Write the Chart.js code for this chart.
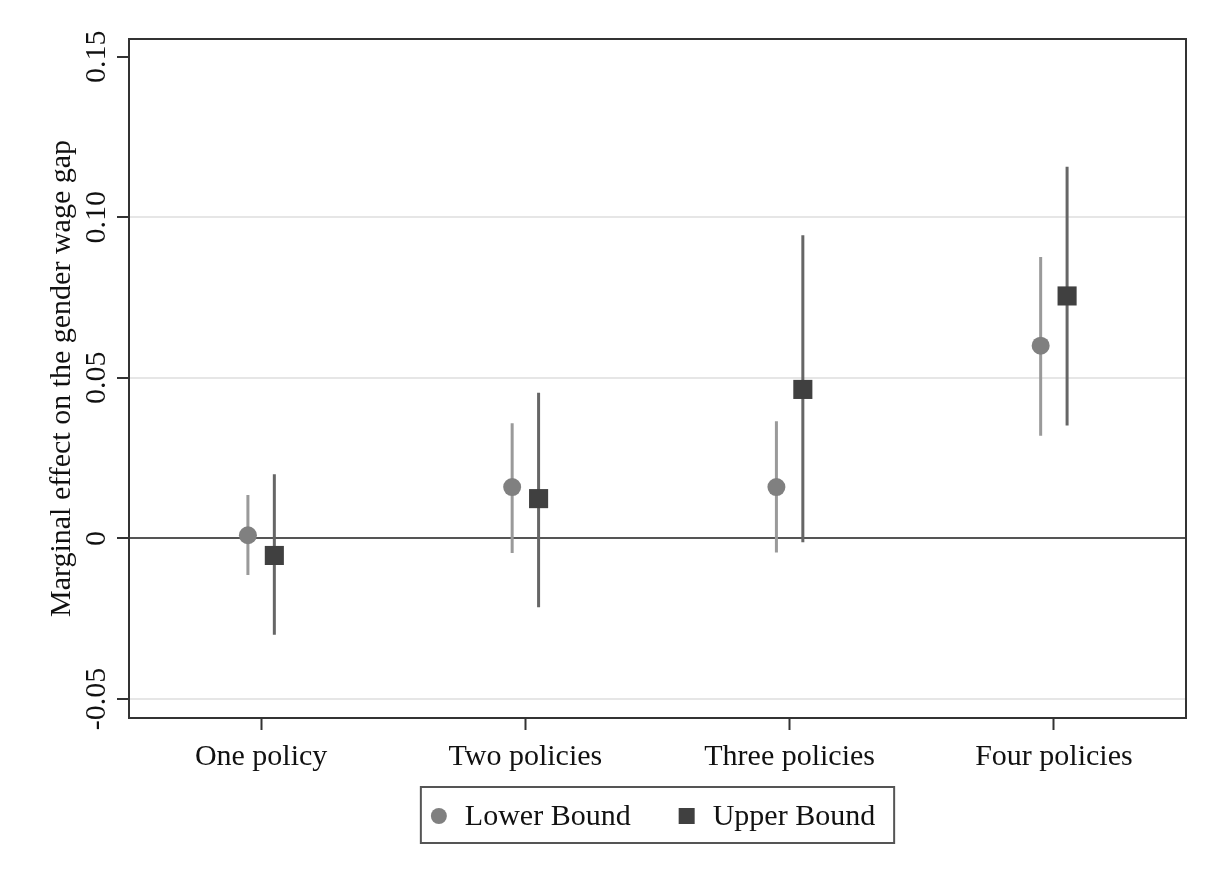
<!DOCTYPE html>
<html>
<head>
<meta charset="utf-8">
<script src="https://cdn.jsdelivr.net/npm/chart.js@4.4.1/dist/chart.umd.min.js"></script>
<style>
  html, body { margin: 0; padding: 0; background: #fff; }
  #wrap { width: 1206px; height: 882px; position: relative; }
</style>
</head>
<body>
<div id="wrap"><canvas id="chart"></canvas></div>
<script>
// categorias e estimativas
const categories = ['One policy', 'Two policies', 'Three policies', 'Four policies'];

const lowerEst = [0.001, 0.016, 0.016, 0.060];
const lowerLo  = [-0.0114, -0.0045, -0.0044, 0.032];
const lowerHi  = [0.0135, 0.0359, 0.0365, 0.0876];

const upperEst = [-0.0053, 0.0124, 0.0464, 0.0755];
const upperLo  = [-0.030, -0.0214, -0.0012, 0.0352];
const upperHi  = [0.020, 0.0454, 0.0944, 0.1157];

const yTickValues = [-0.05, 0, 0.05, 0.10, 0.15];
const yTickLabels = ['-0.05', '0', '0.05', '0.10', '0.15'];

const seriesNames = ['Lower Bound', 'Upper Bound'];

const FONT = '"Liberation Serif", "Times New Roman", serif';
const dodge = 0.05;

// helpers para montar os dados
const pts = (est, shift) => est.map((v, i) => ({ x: i + 1 + shift, y: v }));
const bars = (lo, hi, shift) => {
  let out = [];
  lo.forEach((v, i) => {
    out.push({ x: i + 1 + shift, y: v });
    out.push({ x: i + 1 + shift, y: hi[i] });
    out.push({ x: i + 1 + shift, y: null });
  });
  return out;
};

const lowerColor = '#808080', lowerLine = '#9a9a9a';
const upperColor = '#404040', upperLine = '#666666';

// eixo y rotulado na vertical, moldura e legenda com caixa
const extras = {
  id: 'extras',
  afterDraw(chart) {
    const ctx = chart.ctx;
    const ca = chart.chartArea;
    const yS = chart.scales.y;

    ctx.save();
    ctx.strokeStyle = '#333';
    ctx.lineWidth = 2;
    ctx.strokeRect(ca.left, ca.top, ca.right - ca.left, ca.bottom - ca.top);

    ctx.fillStyle = '#111';
    ctx.font = '30px ' + FONT;
    ctx.textAlign = 'center';
    ctx.textBaseline = 'alphabetic';
    yTickValues.forEach((v, i) => {
      const y = yS.getPixelForValue(v);
      ctx.save();
      ctx.translate(105, y);
      ctx.rotate(-Math.PI / 2);
      ctx.fillText(yTickLabels[i], 0, 0);
      ctx.restore();
    });

    // legenda
    const padL = 10, mW = 16, mGap = 18, iGap = 48, padR = 19;
    ctx.textAlign = 'left';
    const w1 = ctx.measureText(seriesNames[0]).width;
    const w2 = ctx.measureText(seriesNames[1]).width;
    const total = padL + mW + mGap + w1 + iGap + mW + mGap + w2 + padR;
    const left = (ca.left + ca.right) / 2 - total / 2;
    const top = ca.bottom + 69;
    const h = 56;
    ctx.strokeStyle = '#555';
    ctx.lineWidth = 2;
    ctx.strokeRect(left, top, total, h);

    const cy = top + h / 2 + 1;
    let x = left + padL;
    ctx.fillStyle = lowerColor;
    ctx.beginPath();
    ctx.arc(x + mW / 2, cy, 8, 0, Math.PI * 2);
    ctx.fill();
    x += mW + mGap;
    ctx.fillStyle = '#111';
    ctx.fillText(seriesNames[0], x, top + 38);
    x += w1 + iGap;
    ctx.fillStyle = upperColor;
    ctx.fillRect(x, cy - 8, 16, 16);
    x += mW + mGap;
    ctx.fillStyle = '#111';
    ctx.fillText(seriesNames[1], x, top + 38);
    ctx.restore();
  }
};

new Chart(document.getElementById('chart').getContext('2d'), {
  type: 'scatter',
  data: {
    datasets: [
      { label: seriesNames[0], data: pts(lowerEst, -dodge), pointStyle: 'circle', pointRadius: 9,
        backgroundColor: lowerColor, borderColor: lowerColor, borderWidth: 0, order: 0 },
      { label: seriesNames[1], data: pts(upperEst, dodge), pointStyle: 'rect', pointRadius: 13.5,
        backgroundColor: upperColor, borderColor: upperColor, borderWidth: 0, order: 0 },
      { label: 'lo-ci', data: bars(lowerLo, lowerHi, -dodge), showLine: true, spanGaps: false,
        borderColor: lowerLine, borderWidth: 3, pointRadius: 0, order: 1 },
      { label: 'up-ci', data: bars(upperLo, upperHi, dodge), showLine: true, spanGaps: false,
        borderColor: upperLine, borderWidth: 3, pointRadius: 0, order: 1 }
    ]
  },
  options: {
    responsive: true,
    maintainAspectRatio: false,
    animation: false,
    devicePixelRatio: 1,
    layout: { padding: { left: 0, top: 39, right: 20, bottom: 104 } },
    plugins: { legend: { display: false }, tooltip: { enabled: false } },
    scales: {
      x: {
        type: 'linear',
        min: 0.5,
        max: 4.5,
        afterBuildTicks: (s) => { s.ticks = categories.map((c, i) => ({ value: i + 1 })); },
        afterFit: (s) => { s.height = 60; },
        border: { display: false },
        grid: { drawOnChartArea: false, drawTicks: true, tickLength: 12, tickColor: '#333', tickWidth: 2 },
        ticks: {
          padding: 9,
          color: '#111',
          font: { family: FONT, size: 30 },
          maxRotation: 0,
          callback: (v) => categories[Math.round(v) - 1] || ''
        }
      },
      y: {
        min: -0.0559,
        max: 0.1555,
        afterBuildTicks: (s) => { s.ticks = yTickValues.map(v => ({ value: v })); },
        afterFit: (s) => { s.width = 129; },
        border: { display: false },
        grid: {
          color: (c) => {
            const v = c.tick ? c.tick.value : null;
            if (v === 0) return '#555555';
            if (v === 0.15) return 'rgba(0,0,0,0)';
            return '#e6e6e6';
          },
          lineWidth: 2,
          tickLength: 12,
          tickColor: '#333',
          tickWidth: 2
        },
        ticks: { display: false },
        title: {
          display: true,
          text: 'Marginal effect on the gender wage gap',
          color: '#111',
          font: { family: FONT, size: 30 },
          padding: { top: 44, bottom: 0 }
        }
      }
    }
  },
  plugins: [extras]
});
</script>
</body>
</html>
